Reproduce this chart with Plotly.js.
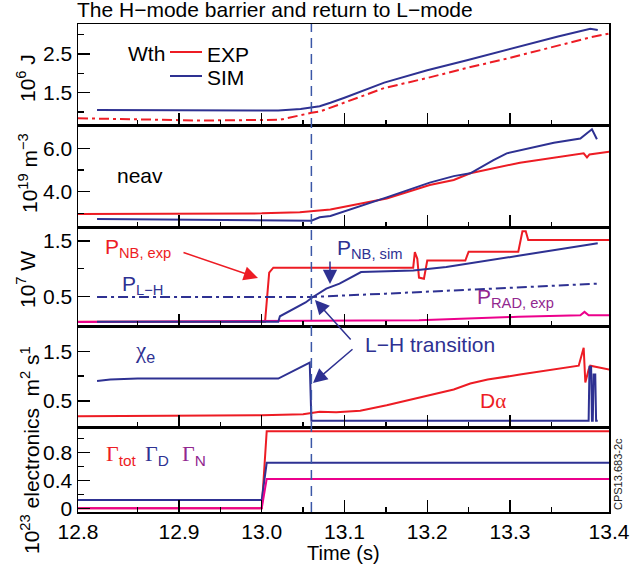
<!DOCTYPE html>
<html>
<head>
<meta charset="utf-8">
<script src="https://cdn.plot.ly/plotly-3.0.1.min.js"></script>
<style>html,body{margin:0;padding:0;background:#fff;}#chart{width:644px;height:567px;}</style>
</head>
<body>
<div id="chart"></div>
<script>
// ---------------- data ----------------
const LH_TIME = 13.06;

// Panel 1: stored energy Wth (10^6 J)
const T_WTH_EXP = [12.778, 12.841, 12.925, 13.022, 13.046, 13.06, 13.07, 13.10, 13.148, 13.20, 13.248, 13.30, 13.358, 13.397, 13.42];
const WTH_EXP   = [0.84, 0.81, 0.78, 0.80, 0.92, 0.98, 1.01, 1.25, 1.62, 1.88, 2.14, 2.40, 2.72, 2.93, 3.03];
const T_WTH_SIM = [12.801, 12.85, 12.95, 13.02, 13.047, 13.06, 13.07, 13.083, 13.10, 13.148, 13.20, 13.248, 13.30, 13.358, 13.397, 13.406];
const WTH_SIM   = [1.05, 1.05, 1.05, 1.04, 1.08, 1.11, 1.15, 1.24, 1.37, 1.76, 2.08, 2.34, 2.63, 2.95, 3.15, 3.12];

// Panel 2: line-averaged density neav (10^19 m^-3)
const T_NE_EXP = [12.778, 12.90, 13.00, 13.046, 13.06, 13.07, 13.083, 13.151, 13.203, 13.232, 13.252, 13.312, 13.353, 13.389, 13.393, 13.396, 13.42];
const NE_EXP   = [2.97, 2.99, 3.00, 3.05, 3.10, 3.15, 3.18, 3.69, 4.31, 4.54, 4.85, 5.34, 5.58, 5.77, 5.58, 5.72, 5.85];
const T_NE_SIM = [12.801, 12.90, 13.00, 13.06, 13.07, 13.083, 13.151, 13.203, 13.232, 13.252, 13.28, 13.296, 13.353, 13.385, 13.399, 13.405];
const NE_SIM   = [2.74, 2.72, 2.68, 2.66, 2.82, 2.88, 3.74, 4.42, 4.72, 4.85, 5.46, 5.77, 6.26, 6.46, 6.88, 6.42];

// Panel 3: powers (10^7 W)
const T_PNB_EXP = [12.778, 13.004, 13.009, 13.014, 13.183, 13.185, 13.188, 13.190, 13.196, 13.199, 13.20, 13.246, 13.25, 13.31, 13.315, 13.319, 13.322, 13.42];
const PNB_EXP   = [0.04, 0.04, 0.93, 1.02, 1.02, 1.30, 1.18, 0.84, 0.82, 1.12, 1.15, 1.15, 1.31, 1.31, 1.68, 1.68, 1.52, 1.52];
const T_PNB_SIM = [12.801, 13.020, 13.022, 13.038, 13.053, 13.061, 13.078, 13.094, 13.12, 13.183, 13.223, 13.312, 13.406];
const PNB_SIM   = [0.04, 0.04, 0.14, 0.27, 0.39, 0.48, 0.64, 0.73, 0.94, 0.97, 1.03, 1.24, 1.46];
const T_PLH = [12.801, 13.06, 13.15, 13.31, 13.405];
const PLH   = [0.49, 0.49, 0.55, 0.66, 0.73];
const T_PRAD = [12.778, 13.0, 13.07, 13.19, 13.31, 13.385, 13.39, 13.395, 13.42];
const PRAD   = [0.035, 0.05, 0.06, 0.07, 0.13, 0.16, 0.22, 0.16, 0.16];

// Panel 4: chi_e (m^2 s^-1) and D-alpha
const T_CHI = [12.801, 12.817, 12.85, 13.0, 13.02, 13.058, 13.06, 13.395, 13.396, 13.398, 13.399, 13.400, 13.401, 13.403, 13.404, 13.406];
const CHI   = [0.90, 0.93, 0.95, 0.96, 0.95, 1.27, 0.10, 0.10, 1.19, 1.19, 0.10, 0.10, 1.03, 1.03, 0.10, 0.10];
const T_DA = [12.778, 12.90, 13.0, 13.05, 13.07, 13.09, 13.119, 13.151, 13.191, 13.232, 13.252, 13.273, 13.312, 13.36, 13.383, 13.389, 13.391, 13.395, 13.397, 13.42];
const DA   = [0.19, 0.20, 0.21, 0.23, 0.28, 0.27, 0.30, 0.41, 0.57, 0.73, 0.85, 0.93, 1.03, 1.15, 1.21, 1.57, 0.87, 1.13, 1.21, 1.13];

// Panel 5: particle sources (10^23 electronics)
const T_GAM = [12.778, 13.0, 13.006, 13.42];
const GAM_TOT = [0, 0, 1.10, 1.10];
const GAM_D   = [0.12, 0.12, 0.65, 0.65];
const GAM_N   = [0, 0, 0.42, 0.42];

// Axis ticks
const X_RANGE = [12.778, 13.4196];
const X_TICKVALS = [12.778, 12.9, 13.0, 13.1, 13.2, 13.3, 13.4196];
const X_TICKTEXT = ['12.8', '12.9', '13.0', '13.1', '13.2', '13.3', '13.4'];
const X_MINOR = [12.85, 12.95, 13.05, 13.15, 13.25, 13.35];

// ---------------- styling ----------------
const RED = '#ed1c24', BLUE = '#2e3192', PINK = '#ec008c', PURPLE = '#92278f';
const FONT = 'Liberation Sans, Arial, sans-serif';
const W = 644, H = 567, ML = 78, MR = 35, MT = 24, MB = 55;
const PW = W - ML - MR, PH = H - MT - MB;
const xp = px => (px - ML) / PW;
const yp = py => (H - MB - py) / PH;

// panel pixel bounds (top, bottom)
const PANELS = [[24, 125], [125, 227], [227, 326], [326, 427], [427, 512]];
const Y_RANGES = [[0.665, 3.275], [2.37, 7.08], [-0.036, 1.756], [-0.027, 2.01], [-0.053, 1.161]];
const Y_TICKS = [[1.5, 2.5], [4, 6], [0.5, 1.5], [0.5, 1.5], [0, 0.4, 0.8]];
const Y_TICKTEXT = [['1.5', '2.5'], ['4.0', '6.0'], ['0.5', '1.5'], ['0.5', '1.5'], ['0', '0.4', '0.8']];
const Y_MINOR = [[1.0, 2.0, 3.0], [3, 5, 7], [1.0], [1.0], [0.2, 0.6, 1.0]];

function ax(p) { return p === 1 ? '' : String(p); }
function tr(t, v, p, color, dash, width) {
  return { x: t, y: v, xaxis: 'x' + ax(p), yaxis: 'y' + ax(p), type: 'scatter', mode: 'lines',
    line: { color: color, width: width || 2, dash: dash || 'solid' }, hoverinfo: 'skip', showlegend: false };
}

const data = [
  tr(T_WTH_EXP, WTH_EXP, 1, RED, '10px,4px,3px,4px'),
  tr(T_WTH_SIM, WTH_SIM, 1, BLUE),
  tr(T_NE_EXP, NE_EXP, 2, RED),
  tr(T_NE_SIM, NE_SIM, 2, BLUE),
  tr(T_PNB_EXP, PNB_EXP, 3, RED),
  tr(T_PRAD, PRAD, 3, PINK),
  tr(T_PNB_SIM, PNB_SIM, 3, BLUE),
  tr(T_PLH, PLH, 3, BLUE, '10px,4px,3px,4px'),
  tr(T_DA, DA, 4, RED),
  tr(T_CHI, CHI, 4, BLUE),
  tr(T_GAM, GAM_TOT, 5, RED),
  tr(T_GAM, GAM_D, 5, BLUE),
  tr(T_GAM, GAM_N, 5, PINK)
];

const layout = {
  width: W, height: H,
  margin: { l: ML, r: MR, t: MT, b: MB, pad: 0 },
  paper_bgcolor: '#fff', plot_bgcolor: '#fff',
  font: { family: FONT, size: 21, color: '#000' },
  showlegend: false,
  shapes: [], annotations: []
};

for (let p = 1; p <= 5; p++) {
  const [top, bot] = PANELS[p - 1];
  layout['xaxis' + ax(p)] = {
    domain: [0, 1], anchor: 'y' + ax(p), range: X_RANGE, matches: p === 1 ? undefined : 'x',
    tickmode: 'array', tickvals: X_TICKVALS, ticktext: X_TICKTEXT,
    showticklabels: p === 5, ticks: 'inside', ticklen: 12, tickwidth: 1.3, tickcolor: '#000',
    minor: { tickmode: 'array', tickvals: X_MINOR, ticks: 'inside', ticklen: 5, tickwidth: 1.3, tickcolor: '#000', showgrid: false },
    showline: true, mirror: true, linecolor: '#000', linewidth: 1.5,
    showgrid: false, zeroline: false, tickfont: { size: 21, family: FONT }
  };
  layout['yaxis' + ax(p)] = {
    domain: [yp(bot), yp(top)], anchor: 'x' + ax(p), range: Y_RANGES[p - 1],
    tickmode: 'array', tickvals: Y_TICKS[p - 1], ticktext: Y_TICKTEXT[p - 1],
    ticks: 'inside', ticklen: 12, tickwidth: 1.3, tickcolor: '#000',
    minor: { tickmode: 'array', tickvals: Y_MINOR[p - 1], ticks: 'inside', ticklen: 6, tickwidth: 1.3, tickcolor: '#000', showgrid: false },
    showline: true, mirror: true, linecolor: '#000', linewidth: 1.5,
    showgrid: false, zeroline: false, tickfont: { size: 21, family: FONT }
  };
}

// L-H transition time marker
layout.shapes.push({ type: 'line', xref: 'x', yref: 'paper', x0: LH_TIME, x1: LH_TIME, y0: 0, y1: 1,
  line: { color: '#3b57a7', width: 1.5, dash: '10px,6px' }, layer: 'above' });
// Wth legend sample lines
layout.shapes.push({ type: 'line', xref: 'paper', yref: 'paper', x0: xp(170), x1: xp(202), y0: yp(52), y1: yp(52), line: { color: RED, width: 2 } });
layout.shapes.push({ type: 'line', xref: 'paper', yref: 'paper', x0: xp(170), x1: xp(202), y0: yp(76), y1: yp(76), line: { color: BLUE, width: 2 } });

function note(text, px, py, opts) {
  layout.annotations.push(Object.assign({ text: text, xref: 'paper', yref: 'paper', x: xp(px), y: yp(py),
    xanchor: 'left', yanchor: 'middle', showarrow: false, borderpad: 0, font: { family: FONT, size: 21, color: '#000' } }, opts || {}));
}
function arrow(x0, y0, x1, y1, color) {
  layout.annotations.push({ text: '', xref: 'paper', yref: 'paper', x: xp(x1), y: yp(y1), ax: x0 - x1, ay: y0 - y1,
    axref: 'pixel', ayref: 'pixel', showarrow: true, arrowhead: 2, arrowsize: 1.9, arrowwidth: 1.5, arrowcolor: color, standoff: 0 });
}
const G = s => '<span style="font-family:Liberation Serif">' + s + '</span>';

note('The H\u2212mode barrier and return to L\u2212mode', 76, 10, { font: { family: FONT, size: 21, color: '#000' } });
note('10<sup>6</sup> J', 26, 78, { xanchor: 'center', textangle: -90, font: { family: FONT, size: 21 } });
note('10<sup>19</sup> m<sup>\u22123</sup>', 28, 173, { xanchor: 'center', textangle: -90 });
note('10<sup>7</sup> W', 26, 280, { xanchor: 'center', textangle: -90 });
note('10<sup>23</sup> electronics  m<sup>2</sup> s<sup>1</sup>', 30, 450, { xanchor: 'center', textangle: -90 });
note('Wth', 127, 53);
note('EXP', 206, 55, { font: { family: FONT, size: 21 } });
note('SIM', 206, 78, { font: { family: FONT, size: 21 } });
note('neav', 116, 175);
note('P<sub>NB, exp</sub>', 104, 248, { font: { family: FONT, size: 21, color: RED } });
arrow(182, 252, 258, 278, RED);
note('P<sub>L\u2212H</sub>', 121, 285, { font: { family: FONT, size: 21, color: BLUE } });
note('P<sub>NB, sim</sub>', 336, 249, { font: { family: FONT, size: 21, color: BLUE } });
arrow(330, 260, 330, 284, BLUE);
note('P<sub>RAD, exp</sub>', 476, 298, { font: { family: FONT, size: 21, color: PURPLE } });
note(G('\u03c7') + '<sub>e</sub>', 134, 352, { font: { family: FONT, size: 23, color: BLUE } });
note('L\u2212H transition', 364, 344, { font: { family: FONT, size: 21, color: BLUE } });
arrow(352, 341, 315, 300, BLUE);
arrow(354, 348, 313, 383, BLUE);
note('D' + G('\u03b1'), 479, 401, { font: { family: FONT, size: 21, color: RED } });
note(G('\u0393') + '<sub>tot</sub>', 105, 455, { font: { family: FONT, size: 22, color: RED } });
note(G('\u0393') + '<sub>D</sub>', 144, 455, { font: { family: FONT, size: 22, color: BLUE } });
note(G('\u0393') + '<sub>N</sub>', 181, 455, { font: { family: FONT, size: 22, color: PURPLE } });
note('CPS13.683-2c', 618, 474, { xanchor: 'center', textangle: -90, font: { family: FONT, size: 11, color: '#222' } });
note('Time (s)', 343, 553, { xanchor: 'center', font: { family: FONT, size: 20 } });

Plotly.newPlot('chart', data, layout, { staticPlot: true, displayModeBar: false });
</script>
</body>
</html>
